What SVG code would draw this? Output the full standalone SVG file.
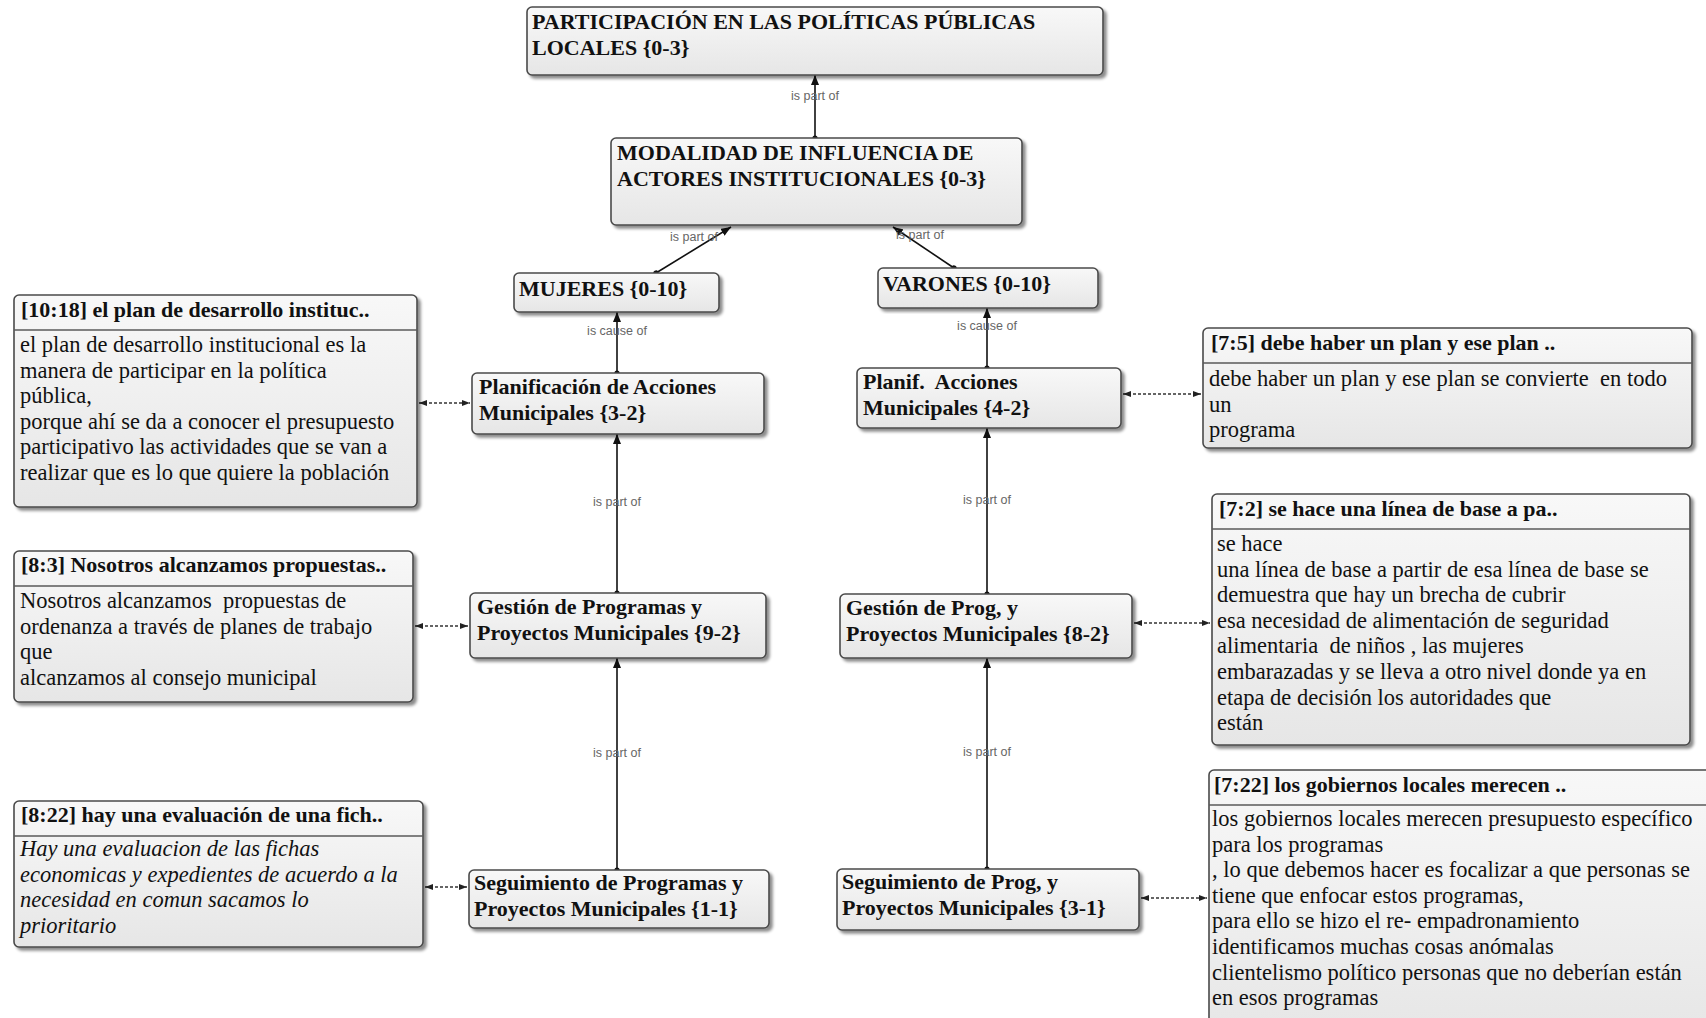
<svg xmlns="http://www.w3.org/2000/svg" width="1706" height="1018" viewBox="0 0 1706 1018">
  <style>
    .box { fill: url(#boxFill); stroke: #4a4a4a; stroke-width: 1.6; filter: url(#shadow); }
    .divider { stroke: #5a5a5a; stroke-width: 1.6; }
    .title { font-family: "Liberation Serif", "Times New Roman", serif; font-weight: bold; font-size: 22px; fill: #111; white-space: pre; }
    .body { font-family: "Liberation Serif", "Times New Roman", serif; font-size: 22.5px; fill: #111; white-space: pre; }
    .italic { font-style: italic; }
    .link { stroke: #111; stroke-width: 1.6; fill: none; marker-start: url(#dot); marker-end: url(#arrow); }
    .quoteLink { stroke: #333; stroke-width: 1.4; stroke-dasharray: 3 2; fill: none; marker-start: url(#arrowSmall); marker-end: url(#arrowSmall); }
    .label { font-family: "Liberation Sans", Arial, sans-serif; font-size: 12.5px; fill: #666; text-anchor: middle; }
  </style>
  <defs>
    <linearGradient id="boxFill" x1="0" y1="0" x2="0" y2="1">
      <stop offset="0" stop-color="#f8f8f8"/>
      <stop offset="1" stop-color="#e6e6e6"/>
    </linearGradient>
    <filter id="shadow" x="-5%" y="-5%" width="115%" height="120%">
      <feDropShadow dx="3" dy="3" stdDeviation="1.6" flood-color="#000" flood-opacity="0.45"/>
    </filter>
    <marker id="arrow" viewBox="0 0 10 8" refX="10" refY="4" markerWidth="10" markerHeight="8" markerUnits="userSpaceOnUse" orient="auto">
      <path d="M0,0 L10,4 L0,8 z" fill="#111"/>
    </marker>
    <marker id="dot" viewBox="0 0 6 6" refX="3" refY="3" markerWidth="6" markerHeight="6" markerUnits="userSpaceOnUse" orient="auto">
      <circle cx="3" cy="3" r="2.6" fill="#111"/>
    </marker>
    <marker id="arrowSmall" viewBox="0 0 8 6" refX="8" refY="3" markerWidth="8" markerHeight="6" markerUnits="userSpaceOnUse" orient="auto-start-reverse">
      <path d="M0,0 L8,3 L0,6 z" fill="#222"/>
    </marker>
  </defs>

  <rect width="1706" height="1018" fill="#ffffff"/>

  <!-- connectors -->
  <g id="connectors">
    <path class="link" d="M815,138 L815,75"/>
    <path class="link" d="M656,273 L731,227"/>
    <path class="link" d="M954,268 L893,227"/>
    <path class="link" d="M617,373 L617,312"/>
    <path class="link" d="M987,368 L987,308"/>
    <path class="link" d="M617,593 L617,434"/>
    <path class="link" d="M987,594 L987,428"/>
    <path class="link" d="M617,870 L617,658"/>
    <path class="link" d="M987,869 L987,658"/>

    <text class="label" x="815" y="100">is part of</text>
    <text class="label" x="694" y="241">is part of</text>
    <text class="label" x="920" y="239">is part of</text>
    <text class="label" x="617" y="335">is cause of</text>
    <text class="label" x="987" y="330">is cause of</text>
    <text class="label" x="617" y="506">is part of</text>
    <text class="label" x="987" y="504">is part of</text>
    <text class="label" x="617" y="757">is part of</text>
    <text class="label" x="987" y="756">is part of</text>

    <path class="quoteLink" d="M419,403 L470,403"/>
    <path class="quoteLink" d="M415,626 L468,626"/>
    <path class="quoteLink" d="M425,887 L467,887"/>
    <path class="quoteLink" d="M1123,394 L1201,394"/>
    <path class="quoteLink" d="M1134,623 L1210,623"/>
    <path class="quoteLink" d="M1141,898 L1207,898"/>
  </g>

  <!-- code nodes -->
  <g id="node-participacion">
    <rect class="box" x="527" y="7" width="576" height="68" rx="5"/>
    <text class="title" x="532" y="29">PARTICIPACIÓN EN LAS POLÍTICAS PÚBLICAS<tspan x="532" dy="26">LOCALES {0-3}</tspan></text>
  </g>
  <g id="node-modalidad">
    <rect class="box" x="611" y="138" width="411" height="87" rx="5"/>
    <text class="title" x="617" y="160">MODALIDAD DE INFLUENCIA DE<tspan x="617" dy="26">ACTORES INSTITUCIONALES {0-3}</tspan></text>
  </g>
  <g id="node-mujeres">
    <rect class="box" x="514" y="273" width="205" height="39" rx="5"/>
    <text class="title" x="519" y="296">MUJERES {0-10}</text>
  </g>
  <g id="node-varones">
    <rect class="box" x="878" y="268" width="220" height="40" rx="5"/>
    <text class="title" x="883" y="291">VARONES {0-10}</text>
  </g>
  <g id="node-planificacion">
    <rect class="box" x="472" y="373" width="292" height="61" rx="5"/>
    <text class="title" x="479" y="394">Planificación de Acciones<tspan x="479" dy="26">Municipales {3-2}</tspan></text>
  </g>
  <g id="node-planif">
    <rect class="box" x="857" y="368" width="264" height="60" rx="5"/>
    <text class="title" x="863" y="389">Planif.  Acciones<tspan x="863" dy="26">Municipales {4-2}</tspan></text>
  </g>
  <g id="node-gestion-programas">
    <rect class="box" x="470" y="593" width="296" height="65" rx="5"/>
    <text class="title" x="477" y="614">Gestión de Programas y<tspan x="477" dy="26">Proyectos Municipales {9-2}</tspan></text>
  </g>
  <g id="node-gestion-prog">
    <rect class="box" x="840" y="594" width="292" height="64" rx="5"/>
    <text class="title" x="846" y="615">Gestión de Prog, y<tspan x="846" dy="26">Proyectos Municipales {8-2}</tspan></text>
  </g>
  <g id="node-seguimiento-programas">
    <rect class="box" x="469" y="870" width="300" height="58" rx="5"/>
    <text class="title" x="474" y="890">Seguimiento de Programas y<tspan x="474" dy="26">Proyectos Municipales {1-1}</tspan></text>
  </g>
  <g id="node-seguimiento-prog">
    <rect class="box" x="837" y="869" width="302" height="61" rx="5"/>
    <text class="title" x="842" y="889">Seguimiento de Prog, y<tspan x="842" dy="26">Proyectos Municipales {3-1}</tspan></text>
  </g>

  <!-- quotation nodes -->
  <g id="quote-10-18">
    <rect class="box" x="14" y="295" width="403" height="212" rx="5"/>
    <line class="divider" x1="14" y1="330" x2="417" y2="330"/>
    <text class="title" x="21" y="317">[10:18] el plan de desarrollo instituc..</text>
    <text class="body" x="20" y="352">el plan de desarrollo institucional es la<tspan x="20" dy="25.6">manera de participar en la política</tspan><tspan x="20" dy="25.6">pública,</tspan><tspan x="20" dy="25.6">porque ahí se da a conocer el presupuesto</tspan><tspan x="20" dy="25.6">participativo las actividades que se van a</tspan><tspan x="20" dy="25.6">realizar que es lo que quiere la población</tspan></text>
  </g>
  <g id="quote-8-3">
    <rect class="box" x="14" y="551" width="399" height="151" rx="5"/>
    <line class="divider" x1="14" y1="586" x2="413" y2="586"/>
    <text class="title" x="21" y="572">[8:3] Nosotros alcanzamos propuestas..</text>
    <text class="body" x="20" y="608">Nosotros alcanzamos  propuestas de<tspan x="20" dy="25.6">ordenanza a través de planes de trabajo</tspan><tspan x="20" dy="25.6">que</tspan><tspan x="20" dy="25.6">alcanzamos al consejo municipal</tspan></text>
  </g>
  <g id="quote-8-22">
    <rect class="box" x="14" y="801" width="409" height="146" rx="5"/>
    <line class="divider" x1="14" y1="836" x2="423" y2="836"/>
    <text class="title" x="21" y="822">[8:22] hay una evaluación de una fich..</text>
    <text class="body italic" x="20" y="856">Hay una evaluacion de las fichas<tspan x="20" dy="25.6">economicas y expedientes de acuerdo a la</tspan><tspan x="20" dy="25.6">necesidad en comun sacamos lo</tspan><tspan x="20" dy="25.6">prioritario</tspan></text>
  </g>
  <g id="quote-7-5">
    <rect class="box" x="1203" y="328" width="489" height="120" rx="5"/>
    <line class="divider" x1="1203" y1="363" x2="1692" y2="363"/>
    <text class="title" x="1211" y="350">[7:5] debe haber un plan y ese plan ..</text>
    <text class="body" x="1209" y="386">debe haber un plan y ese plan se convierte  en todo<tspan x="1209" dy="25.6">un</tspan><tspan x="1209" dy="25.6">programa</tspan></text>
  </g>
  <g id="quote-7-2">
    <rect class="box" x="1212" y="494" width="478" height="251" rx="5"/>
    <line class="divider" x1="1212" y1="529" x2="1690" y2="529"/>
    <text class="title" x="1219" y="516">[7:2] se hace una línea de base a pa..</text>
    <text class="body" x="1217" y="551">se hace<tspan x="1217" dy="25.6">una línea de base a partir de esa línea de base se</tspan><tspan x="1217" dy="25.6">demuestra que hay un brecha de cubrir</tspan><tspan x="1217" dy="25.6">esa necesidad de alimentación de seguridad</tspan><tspan x="1217" dy="25.6">alimentaria  de niños , las mujeres</tspan><tspan x="1217" dy="25.6">embarazadas y se lleva a otro nivel donde ya en</tspan><tspan x="1217" dy="25.6">etapa de decisión los autoridades que</tspan><tspan x="1217" dy="25.6">están</tspan></text>
  </g>
  <g id="quote-7-22">
    <rect class="box" x="1209" y="770" width="520" height="270" rx="5"/>
    <line class="divider" x1="1209" y1="805" x2="1729" y2="805"/>
    <text class="title" x="1214" y="792">[7:22] los gobiernos locales merecen ..</text>
    <text class="body" x="1212" y="826">los gobiernos locales merecen presupuesto específico<tspan x="1212" dy="25.6">para los programas</tspan><tspan x="1212" dy="25.6">, lo que debemos hacer es focalizar a que personas se</tspan><tspan x="1212" dy="25.6">tiene que enfocar estos programas,</tspan><tspan x="1212" dy="25.6">para ello se hizo el re- empadronamiento</tspan><tspan x="1212" dy="25.6">identificamos muchas cosas anómalas</tspan><tspan x="1212" dy="25.6">clientelismo político personas que no deberían están</tspan><tspan x="1212" dy="25.6">en esos programas</tspan></text>
  </g>
</svg>
